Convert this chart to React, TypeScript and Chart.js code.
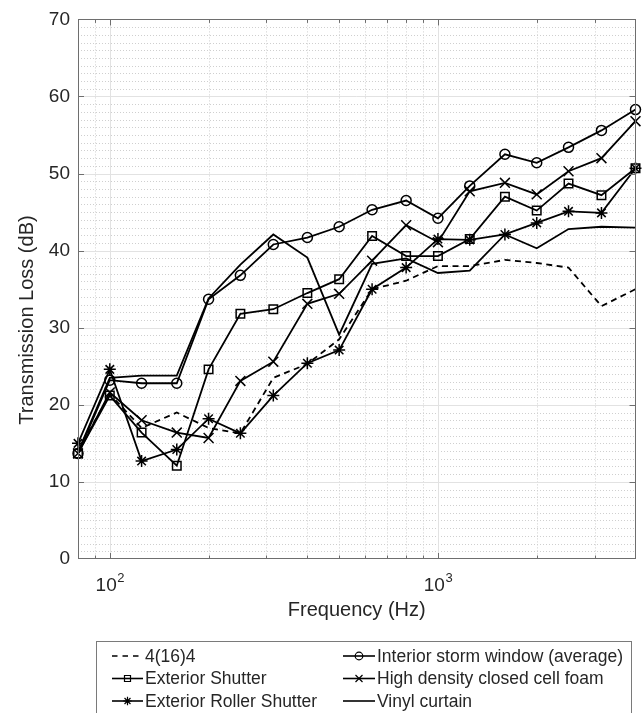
import React, { useEffect, useRef } from 'react';
import { Chart, registerables } from 'chart.js';

Chart.register(...registerables);

// ---------- data ----------
const frequencies = [80, 100, 125, 160, 200, 250, 315, 400, 500, 630, 800, 1000, 1250, 1600, 2000, 2500, 3150, 4000];

const glazing4164 = [14.0, 21.4, 17.0, 19.0, 17.0, 16.3, 23.5, 25.3, 28.5, 35.0, 36.1, 38.0, 38.0, 38.8, 38.4, 37.8, 32.8, 35.0];
const exteriorShutter = [13.7, 21.2, 16.4, 12.1, 24.6, 31.8, 32.4, 34.5, 36.3, 41.9, 39.3, 39.3, 41.5, 47.0, 45.2, 48.7, 47.2, 50.7];
const exteriorRollerShutter = [15.0, 24.6, 12.7, 14.2, 18.2, 16.3, 21.2, 25.4, 27.1, 35.0, 37.8, 41.5, 41.4, 42.1, 43.6, 45.1, 44.9, 50.7];
const interiorStormWindow = [13.7, 23.2, 22.8, 22.8, 33.7, 36.8, 40.8, 41.7, 43.1, 45.3, 46.5, 44.2, 48.4, 52.5, 51.4, 53.4, 55.6, 58.3];
const highDensityFoam = [13.7, 21.6, 18.0, 16.4, 15.7, 23.1, 25.6, 33.1, 34.4, 38.7, 43.3, 41.1, 47.7, 48.8, 47.3, 50.3, 52.0, 56.8];
const vinylCurtain = [13.9, 23.5, 23.8, 23.8, 33.8, 38.2, 42.1, 39.1, 29.1, 38.3, 39.0, 37.1, 37.4, 42.1, 40.3, 42.8, 43.1, 43.0];

const seriesLabels = [
  '4(16)4',
  'Exterior Shutter',
  'Exterior Roller Shutter',
  'Interior storm window (average)',
  'High density closed cell foam',
  'Vinyl curtain',
];

const yTickValues = [0, 10, 20, 30, 40, 50, 60, 70];
const xTickDecades = [100, 1000];
const xTickBase = '10';
const xTickExponents = ['2', '3'];
const xTitle = 'Frequency (Hz)';
const yTitle = 'Transmission Loss (dB)';

// ---------- styles ----------
const FONT = '"Liberation Sans", Arial, Helvetica, sans-serif';
const TEXT = '#262626';
const AXIS = '#6e6e6e';

type MarkerStyle = 'none' | 'circle' | 'rect' | 'crossRot' | 'star';

function drawMarker(ctx: CanvasRenderingContext2D, style: MarkerStyle, x: number, y: number, r: number) {
  if (style === 'none') return;
  ctx.beginPath();
  if (style === 'circle') {
    ctx.arc(x, y, r, 0, Math.PI * 2);
  } else if (style === 'rect') {
    ctx.rect(x - r, y - r, 2 * r, 2 * r);
  } else if (style === 'crossRot') {
    ctx.moveTo(x - r, y - r); ctx.lineTo(x + r, y + r);
    ctx.moveTo(x - r, y + r); ctx.lineTo(x + r, y - r);
  } else if (style === 'star') {
    const d = r * Math.SQRT1_2;
    ctx.moveTo(x - r, y); ctx.lineTo(x + r, y);
    ctx.moveTo(x, y - r); ctx.lineTo(x, y + r);
    ctx.moveTo(x - d, y - d); ctx.lineTo(x + d, y + d);
    ctx.moveTo(x - d, y + d); ctx.lineTo(x + d, y - d);
  }
  ctx.stroke();
}

const legendItems: { label: string; dash: number[]; marker: MarkerStyle; col: number; row: number }[] = [
  { label: seriesLabels[0], dash: [5.5, 5], marker: 'none', col: 0, row: 0 },
  { label: seriesLabels[1], dash: [], marker: 'rect', col: 0, row: 1 },
  { label: seriesLabels[2], dash: [], marker: 'star', col: 0, row: 2 },
  { label: seriesLabels[3], dash: [], marker: 'circle', col: 1, row: 0 },
  { label: seriesLabels[4], dash: [], marker: 'crossRot', col: 1, row: 1 },
  { label: seriesLabels[5], dash: [], marker: 'none', col: 1, row: 2 },
];

const legendMarkerSize: Record<string, number> = { circle: 3.8, rect: 3, crossRot: 3.5, star: 4.2, none: 0 };

const matlabAxesPlugin = {
  id: 'matlabAxes',
  beforeDatasetsDraw(chart: any) {
    const { ctx, chartArea: a, scales } = chart;
    const xs = scales.x;
    const ys = scales.y;
    ctx.save();
    // minor grid (dotted)
    ctx.strokeStyle = '#cfcfcf';
    ctx.lineWidth = 1;
    ctx.setLineDash([1, 2]);
    ctx.beginPath();
    for (const dec of [10, 100, 1000]) {
      for (let m = 2; m <= 9; m++) {
        const v = m * dec;
        if (v <= 80 || v >= 4000) continue;
        const px = Math.round(xs.getPixelForValue(v)) + 0.5;
        ctx.moveTo(px, a.top);
        ctx.lineTo(px, a.bottom);
      }
    }
    for (let d = 1; d < 70; d++) {
      if (d % 10 === 0) continue;
      const py = Math.round(ys.getPixelForValue(d)) + 0.5;
      ctx.moveTo(a.left, py);
      ctx.lineTo(a.right, py);
    }
    ctx.stroke();
    // major grid
    ctx.setLineDash([]);
    ctx.strokeStyle = '#e2e2e2';
    ctx.beginPath();
    for (const v of xTickDecades) {
      const px = Math.round(xs.getPixelForValue(v)) + 0.5;
      ctx.moveTo(px, a.top);
      ctx.lineTo(px, a.bottom);
    }
    for (const v of yTickValues) {
      if (v === 0 || v === 70) continue;
      const py = Math.round(ys.getPixelForValue(v)) + 0.5;
      ctx.moveTo(a.left, py);
      ctx.lineTo(a.right, py);
    }
    ctx.stroke();
    ctx.restore();
  },
  afterDatasetsDraw(chart: any) {
    const { ctx, chartArea: a, scales } = chart;
    const xs = scales.x;
    const ys = scales.y;
    ctx.save();
    ctx.setLineDash([]);
    ctx.strokeStyle = AXIS;
    ctx.lineWidth = 1;
    // box
    ctx.strokeRect(Math.round(a.left) + 0.5, Math.round(a.top) + 0.5, Math.round(a.right - a.left) - 1, Math.round(a.bottom - a.top) - 1);
    // ticks
    ctx.beginPath();
    for (const dec of [10, 100, 1000]) {
      for (let m = 1; m <= 9; m++) {
        const v = m * dec;
        if (v <= 80 || v >= 4000) continue;
        const len = m === 1 ? 6 : 3.5;
        const px = Math.round(xs.getPixelForValue(v)) + 0.5;
        ctx.moveTo(px, a.bottom); ctx.lineTo(px, a.bottom - len);
        ctx.moveTo(px, a.top); ctx.lineTo(px, a.top + len);
      }
    }
    for (const v of yTickValues) {
      if (v === 0 || v === 70) continue;
      const py = Math.round(ys.getPixelForValue(v)) + 0.5;
      ctx.moveTo(a.left, py); ctx.lineTo(a.left + 6, py);
      ctx.moveTo(a.right, py); ctx.lineTo(a.right - 6, py);
    }
    ctx.stroke();

    // x tick labels 10^n
    ctx.fillStyle = TEXT;
    ctx.textBaseline = 'alphabetic';
    ctx.textAlign = 'left';
    xTickDecades.forEach((v, i) => {
      const px = xs.getPixelForValue(v);
      ctx.font = `19px ${FONT}`;
      const wb = ctx.measureText(xTickBase).width;
      ctx.font = `13px ${FONT}`;
      const we = ctx.measureText(xTickExponents[i]).width;
      const start = px - (wb + we) / 2;
      ctx.font = `19px ${FONT}`;
      ctx.fillText(xTickBase, start, 591);
      ctx.font = `13px ${FONT}`;
      ctx.fillText(xTickExponents[i], start + wb + 0.5, 582);
    });

    // x title
    ctx.font = `20px ${FONT}`;
    ctx.textAlign = 'center';
    ctx.fillText(xTitle, (a.left + a.right) / 2, 616);

    // y title
    ctx.save();
    ctx.translate(33, 320);
    ctx.rotate(-Math.PI / 2);
    ctx.textAlign = 'center';
    ctx.textBaseline = 'alphabetic';
    ctx.fillText(yTitle, 0, 0);
    ctx.restore();

    // legend
    ctx.fillStyle = '#ffffff';
    ctx.fillRect(96, 641, 536, 100);
    ctx.strokeStyle = '#7a7a7a';
    ctx.lineWidth = 1;
    ctx.strokeRect(96.5, 641.5, 535, 100);
    const colLine = [[112, 143], [343, 375]];
    const colText = [145, 377];
    const rowY = [656, 678.5, 701];
    ctx.font = `17.5px ${FONT}`;
    ctx.textBaseline = 'middle';
    ctx.textAlign = 'left';
    for (const it of legendItems) {
      const [x0, x1] = colLine[it.col];
      const yy = rowY[it.row];
      ctx.strokeStyle = '#000';
      ctx.lineWidth = 1.6;
      ctx.setLineDash(it.dash);
      ctx.beginPath();
      ctx.moveTo(x0, yy);
      ctx.lineTo(x1, yy);
      ctx.stroke();
      ctx.setLineDash([]);
      ctx.lineWidth = 1.2;
      drawMarker(ctx, it.marker, (x0 + x1) / 2, yy, legendMarkerSize[it.marker]);
      ctx.fillStyle = TEXT;
      ctx.fillText(it.label, colText[it.col], yy + 1);
    }
    ctx.restore();
  },
};

function makeDataset(label: string, values: number[], pointStyle: string, radius: number, dash: number[] = []) {
  return {
    label,
    data: frequencies.map((f, i) => ({ x: f, y: values[i] })),
    borderColor: '#000000',
    borderWidth: 1.8,
    borderDash: dash,
    pointStyle,
    pointRadius: radius,
    pointHoverRadius: radius,
    pointBorderColor: '#000000',
    pointBackgroundColor: 'rgba(0,0,0,0)',
    pointBorderWidth: 1.5,
    tension: 0,
    fill: false,
    clip: false as any,
  };
}

export default function App() {
  const canvasRef = useRef<HTMLCanvasElement | null>(null);

  useEffect(() => {
    document.body.style.margin = '0';
    const canvas = canvasRef.current;
    if (!canvas) return;
    const chart = new Chart(canvas, {
      type: 'line',
      data: {
        datasets: [
          makeDataset(seriesLabels[0], glazing4164, 'circle', 0, [6, 4.5]),
          makeDataset(seriesLabels[1], exteriorShutter, 'rect', 6),
          makeDataset(seriesLabels[2], exteriorRollerShutter, 'star', 6),
          makeDataset(seriesLabels[3], interiorStormWindow, 'circle', 5),
          makeDataset(seriesLabels[4], highDensityFoam, 'crossRot', 7),
          makeDataset(seriesLabels[5], vinylCurtain, 'circle', 0),
        ] as any,
      },
      options: {
        responsive: false,
        animation: false,
        devicePixelRatio: 1,
        events: [],
        layout: { padding: { top: 17, right: 2, bottom: 0, left: 0 } },
        plugins: {
          legend: { display: false },
          tooltip: { enabled: false },
          title: { display: false },
        },
        scales: {
          x: {
            type: 'logarithmic',
            min: 80,
            max: 4000,
            grid: { display: false, drawTicks: false },
            border: { display: false },
            ticks: { display: false },
            afterFit: (s: any) => { s.height = 154; },
          },
          y: {
            type: 'linear',
            min: 0,
            max: 70,
            grid: { display: false, drawTicks: false },
            border: { display: false },
            ticks: {
              padding: 8,
              color: TEXT,
              font: { family: FONT, size: 19 },
            },
            afterBuildTicks: (s: any) => { s.ticks = yTickValues.map((v) => ({ value: v })); },
            afterFit: (s: any) => { s.width = 78; },
          },
        } as any,
      },
      plugins: [matlabAxesPlugin],
    });
    return () => chart.destroy();
  }, []);

  return (
    <div style={{ width: 644, height: 713, background: '#fff' }}>
      <canvas ref={canvasRef} width={644} height={713} style={{ display: 'block', width: 644, height: 713 }} />
    </div>
  );
}
